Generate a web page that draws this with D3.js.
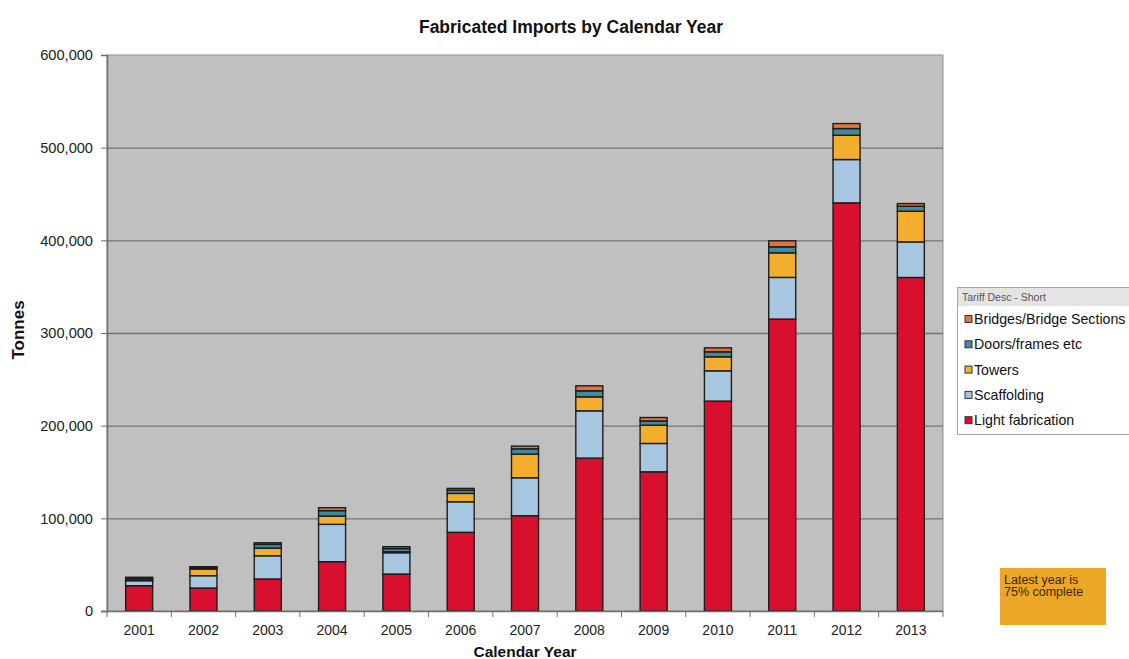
<!DOCTYPE html>
<html>
<head>
<meta charset="utf-8">
<script src="https://cdn.jsdelivr.net/npm/d3@7"></script>
<style>
  html, body { margin: 0; padding: 0; background: #ffffff; }
  svg { display: block; font-family: "Liberation Sans", Arial, sans-serif; }
</style>
</head>
<body>
<svg id="chart" width="1129" height="659"></svg>
<script>
// ---------- data ----------
const years = ["2001","2002","2003","2004","2005","2006","2007","2008","2009","2010","2011","2012","2013"];
const lightFabrication = [27300, 24800, 34500, 53200, 39900, 84900, 102800, 165000, 150200, 226500, 315000, 440400, 359900];
const scaffolding      = [5400, 13300, 25100, 40300, 23000, 33000, 41000, 51000, 30600, 32700, 45000, 46800, 38400];
const towers           = [1000, 7200, 8300, 9000, 1000, 9000, 25500, 15100, 19700, 15100, 26500, 26200, 33100];
const doorsFrames      = [1700, 1500, 4000, 5800, 3500, 3500, 5700, 6500, 4600, 5400, 6500, 7200, 5400];
const bridges          = [1000, 1000, 1700, 3200, 2000, 1900, 2900, 5400, 3700, 4300, 6500, 5400, 2900];
const seriesNames  = ["Light fabrication", "Scaffolding", "Towers", "Doors/frames etc", "Bridges/Bridge Sections"];
const seriesColors = ["#d8102e", "#a7c6df", "#f2ae2c", "#3f8a9c", "#e4733a"];
const yTicks = [0, 100000, 200000, 300000, 400000, 500000, 600000];
const titleText = "Fabricated Imports by Calendar Year";
const xTitle = "Calendar Year";
const yTitle = "Tonnes";
const legendTitle = "Tariff Desc - Short";
const noteLines = ["Latest year is", "75% complete"];

// ---------- build table ----------
const seriesArrays = [lightFabrication, scaffolding, towers, doorsFrames, bridges];
const table = years.map((yr, i) => {
  const row = { year: yr };
  seriesNames.forEach((s, k) => row[s] = seriesArrays[k][i]);
  return row;
});
const stacked = d3.stack().keys(seriesNames)(table);

// ---------- layout ----------
const svg = d3.select("#chart");
const plot = { left: 107, top: 55, right: 943, bottom: 611 };
const W = plot.right - plot.left, H = plot.bottom - plot.top;

const x = d3.scaleBand().domain(years).range([plot.left, plot.right])
  .paddingInner(0.58).paddingOuter(0.29);
const y = d3.scaleLinear().domain([0, 600000]).range([plot.bottom, plot.top]);

// plot background
svg.append("rect")
  .attr("x", plot.left).attr("y", plot.top)
  .attr("width", W).attr("height", H)
  .attr("fill", "#c0c0c0")
  .attr("stroke", "#8f8f8f").attr("stroke-width", 1);

// gridlines
const grid = svg.append("g")
  .attr("transform", `translate(${plot.left},0)`)
  .call(d3.axisLeft(y).tickValues(yTicks.filter(t => t > 0 && t < 600000)).tickSize(-W).tickFormat(""));
grid.select(".domain").remove();
grid.selectAll("line").attr("stroke", "#747474").attr("stroke-width", 1.4);

// bars
const layers = svg.append("g").selectAll("g")
  .data(stacked).join("g")
  .attr("fill", (d, i) => seriesColors[i]);
layers.selectAll("rect")
  .data(d => d).join("rect")
  .attr("x", d => x(d.data.year))
  .attr("y", d => y(d[1]))
  .attr("width", x.bandwidth())
  .attr("height", d => Math.max(0, y(d[0]) - y(d[1])))
  .attr("stroke", "#1c1c1c").attr("stroke-width", 1.4);

// y axis
const yAxis = svg.append("g")
  .attr("transform", `translate(${plot.left},0)`)
  .call(d3.axisLeft(y).tickValues(yTicks).tickSize(6).tickPadding(8).tickFormat(d3.format(",")));
yAxis.select(".domain").attr("stroke", "#6e6e6e").attr("stroke-width", 1.5);
yAxis.selectAll(".tick line").attr("stroke", "#6e6e6e");
yAxis.selectAll("text").attr("font-size", 14.6).attr("fill", "#222");

// x axis
const xAxis = svg.append("g")
  .attr("transform", `translate(0,${plot.bottom})`)
  .call(d3.axisBottom(x).tickSize(0).tickPadding(14));
xAxis.select(".domain").attr("stroke", "#6e6e6e").attr("stroke-width", 1.5)
  .attr("d", `M${plot.left - 6},0.5H${plot.right}`);
xAxis.selectAll("text").attr("font-size", 14).attr("fill", "#222");
// boundary tick marks between categories
const boundaries = years.map(yr => x(yr) - x.step() * x.paddingInner() / 2).concat([plot.right]);
xAxis.selectAll(".bt").data(boundaries).join("line")
  .attr("class", "bt")
  .attr("x1", d => d).attr("x2", d => d)
  .attr("y1", 0).attr("y2", 6)
  .attr("stroke", "#6e6e6e");

// titles
svg.append("text").attr("x", 571).attr("y", 33)
  .attr("text-anchor", "middle").attr("font-weight", "bold").attr("font-size", 17.5)
  .attr("fill", "#111").text(titleText);
svg.append("text").attr("x", 525).attr("y", 657)
  .attr("text-anchor", "middle").attr("font-weight", "bold").attr("font-size", 15.5)
  .attr("fill", "#111").text(xTitle);
svg.append("text").attr("transform", "translate(24,330) rotate(-90)")
  .attr("text-anchor", "middle").attr("font-weight", "bold").attr("font-size", 17)
  .attr("fill", "#111").text(yTitle);

// legend
const lg = svg.append("g").attr("transform", "translate(957,287)");
lg.append("rect").attr("x", 0.5).attr("y", 0.5).attr("width", 180).attr("height", 147)
  .attr("fill", "#ffffff").attr("stroke", "#a5a5a5");
lg.append("rect").attr("x", 1).attr("y", 1).attr("width", 179).attr("height", 18)
  .attr("fill", "#e4e4e4");
lg.append("text").attr("x", 5).attr("y", 14).attr("font-size", 10.5).attr("fill", "#555")
  .text(legendTitle);
const legendOrder = seriesNames.map((n, i) => i).reverse();
const items = lg.selectAll(".li").data(legendOrder).join("g")
  .attr("class", "li")
  .attr("transform", (d, j) => `translate(0,${34 + j * 25.3})`);
items.append("rect").attr("x", 8).attr("y", -5.5).attr("width", 7).attr("height", 7)
  .attr("fill", d => seriesColors[d]).attr("stroke", "#333").attr("stroke-width", 1);
items.append("text").attr("x", 17).attr("y", 3).attr("font-size", 14.2).attr("fill", "#111")
  .text(d => seriesNames[d]);

// note box
const nb = svg.append("g").attr("transform", "translate(1000,568)");
nb.append("rect").attr("width", 106).attr("height", 57).attr("fill", "#eca628");
nb.selectAll("text").data(noteLines).join("text")
  .attr("x", 4).attr("y", (d, i) => 16 + i * 12)
  .attr("font-size", 12.5).attr("fill", "#3a2800").text(d => d);
</script>
</body>
</html>
